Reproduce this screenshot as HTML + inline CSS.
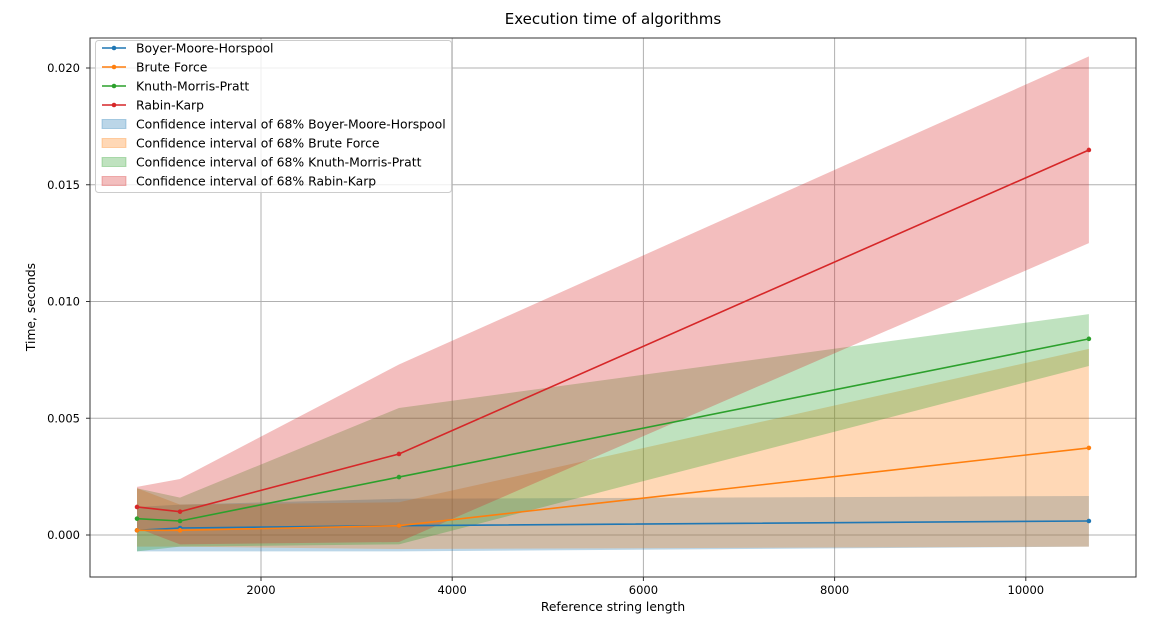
<!DOCTYPE html>
<html><head><meta charset="utf-8"><style>
body{margin:0;background:#fff;}
svg text{font-family:"DejaVu Sans","Liberation Sans",sans-serif;fill:#000;}
</style></head><body>
<svg id="chart" width="1158" height="631" xmlns="http://www.w3.org/2000/svg">
<text x="613" y="24" font-size="15" text-anchor="middle">Execution time of algorithms</text>
<text x="613" y="611" font-size="12.3" text-anchor="middle">Reference string length</text>
<text transform="translate(35,307) rotate(-90)" font-size="12.3" text-anchor="middle">Time, seconds</text>
<g id="grid"></g><g id="bands"></g><g id="lines"></g><g id="axes"></g><g id="legend"></g>
</svg>
<script>
const xs = [703, 1153, 3443, 10660];
const names = ["Boyer-Moore-Horspool","Brute Force","Knuth-Morris-Pratt","Rabin-Karp"];
const bmhMean = [0.0002, 0.0003, 0.0004, 0.0006];
const bfMean = [0.0002, 0.0002, 0.0004, 0.00373];
const kmpMean = [0.0007, 0.0006, 0.00248, 0.0084];
const rkMean = [0.0012, 0.0010, 0.00347, 0.01649];
const bmhUpper = [0.0012, 0.0013, 0.00155, 0.00167];
const bmhLower = [-0.0007, -0.0007, -0.0007, -0.0005];
const bfUpper = [0.0020, 0.0013, 0.0014, 0.00797];
const bfLower = [-0.0005, -0.0005, -0.0006, -0.0005];
const kmpUpper = [0.0020, 0.0016, 0.00544, 0.00946];
const kmpLower = [-0.0007, -0.0005, -0.0004, 0.00724];
const rkUpper = [0.00206, 0.0024, 0.0073, 0.0205];
const rkLower = [0.0003, -0.0004, -0.0003, 0.0125];
const xTicks = [2000, 4000, 6000, 8000, 10000];
const yTicks = [0, 0.005, 0.010, 0.015, 0.020];
const yTickLabels = ["0.000","0.005","0.010","0.015","0.020"];

const colors = ["#1f77b4","#ff7f0e","#2ca02c","#d62728"];
const means = [bmhMean, bfMean, kmpMean, rkMean];
const uppers = [bmhUpper, bfUpper, kmpUpper, rkUpper];
const lowers = [bmhLower, bfLower, kmpLower, rkLower];
const L=90, R=1136, T=38, B=577;
const X = v => 69.8 + v*0.0956;
const Y = v => 535 - v*23350;
const NS="http://www.w3.org/2000/svg";
function mk(tag, parent, attrs){const e=document.createElementNS(NS,tag);for(const k in attrs)e.setAttribute(k,attrs[k]);document.getElementById(parent).appendChild(e);return e;}

xTicks.forEach((t,i)=>{
  const g=mk("line","grid",{x1:X(t),x2:X(t),y1:T,y2:B,stroke:"#b0b0b0","stroke-width":1});
  
  
  const tk=mk("line","axes",{x1:X(t),x2:X(t),y1:B,y2:B+4,stroke:"#333"});
  
  
  const tx=mk("text","axes",{x:X(t),y:B+17,"font-size":11.5,"text-anchor":"middle"});
  tx.textContent=t;
  
  
});
yTicks.forEach((t,i)=>{
  const g=mk("line","grid",{x1:L,x2:R,y1:Y(t),y2:Y(t),stroke:"#b0b0b0","stroke-width":1});
  
  
  const tk=mk("line","axes",{x1:L-4,x2:L,y1:Y(t),y2:Y(t),stroke:"#333"});
  
  
  const tx=mk("text","axes",{x:L-10,y:Y(t)+4,"font-size":11.5,"text-anchor":"end"});
  tx.textContent=yTickLabels[i];
  
  
});
const frame=mk("rect","axes",{x:L,y:T,width:R-L,height:B-T,fill:"none",stroke:"#333","stroke-width":1});



for(let s=0;s<4;s++){
  let pts=xs.map((x,i)=>X(x)+","+Y(uppers[s][i]));
  pts=pts.concat(xs.map((x,i)=>X(x)+","+Y(lowers[s][i])).reverse());
  const p=mk("polygon","bands",{points:pts.join(" "),fill:colors[s],"fill-opacity":0.3});
  
  
}
for(let s=0;s<4;s++){
  const pl=mk("polyline","lines",{points:xs.map((x,i)=>X(x)+","+Y(means[s][i])).join(" "),fill:"none",stroke:colors[s],"stroke-width":1.6});
  
  
  xs.forEach((x,i)=>{
    const c=mk("circle","lines",{cx:X(x),cy:Y(means[s][i]),r:2.3,fill:colors[s]});
    
    
  });
}
const lb=mk("rect","legend",{x:95.5,y:40.5,width:356,height:152,rx:3,fill:"#fff","fill-opacity":0.8,stroke:"#ccc"});


for(let s=0;s<8;s++){
  const y=48+s*19, c=colors[s%4];
  if(s<4){
    const l=mk("line","legend",{x1:102,x2:126,y1:y,y2:y,stroke:c,"stroke-width":1.6});
    
    
    const d=mk("circle","legend",{cx:114,cy:y,r:2.3,fill:c});
    
    
  } else {
    const r=mk("rect","legend",{x:102,y:y-4.5,width:24,height:9,fill:c,"fill-opacity":0.3,stroke:c,"stroke-opacity":0.3});
    
    
  }
  const t=mk("text","legend",{x:136,y:y+4.5,"font-size":12.4});
  t.textContent = s<4 ? names[s] : "Confidence interval of 68% "+names[s-4];
  
  
}
</script>
</body></html>
